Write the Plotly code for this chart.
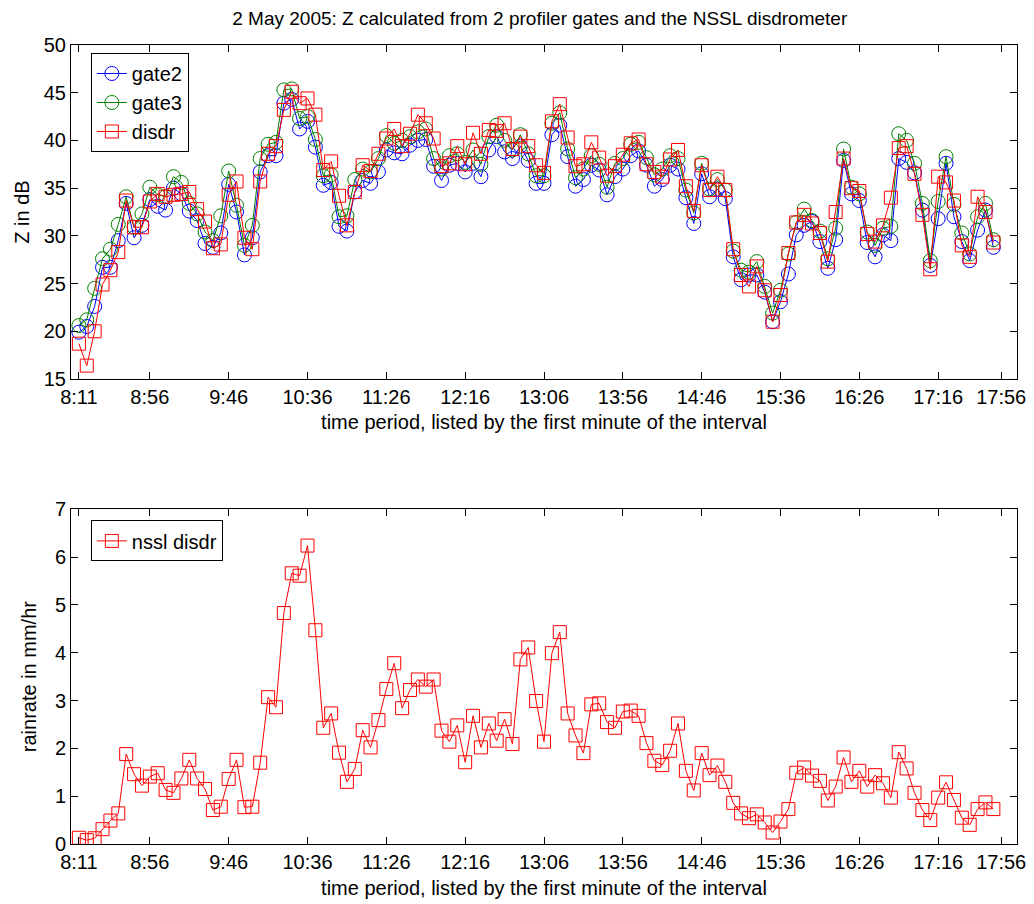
import plotly.graph_objects as go
from plotly.subplots import make_subplots

title_text = "2 May 2005: Z calculated from 2 profiler gates and the NSSL disdrometer"
x_label = "time period, listed by the first minute of the interval"

tick_positions = [1, 10, 20, 30, 40, 50, 60, 70, 80, 90, 100, 110, 118]
tick_labels = ["8:11", "8:56", "9:46", "10:36", "11:26", "12:16", "13:06",
               "13:56", "14:46", "15:36", "16:26", "17:16", "17:56"]

gate2 = [19.9, 20.5, 22.6, 26.7, 26.7, 29.5, 33.4, 29.8, 31.1, 33.8,
         33.1, 32.7, 35.0, 34.4, 32.6, 31.6, 29.2, 28.8, 30.3, 35.4,
         32.5, 28.0, 29.8, 36.7, 38.4, 38.4, 43.9, 44.3, 41.2, 42.0,
         39.3, 35.3, 35.6, 31.0, 30.5, 34.6, 35.8, 35.5, 36.7, 39.0,
         38.7, 38.6, 39.5, 40.0, 40.1, 37.3, 35.8, 37.4, 37.6, 36.7,
         37.6, 36.2, 39.0, 40.4, 38.8, 38.1, 39.4, 37.9, 35.5, 35.5,
         40.6, 41.6, 38.3, 35.2, 35.9, 37.4, 36.9, 34.3, 36.2, 37.0,
         38.4, 38.9, 37.4, 35.2, 35.9, 37.4, 37.0, 34.0, 31.3, 36.5,
         34.1, 34.9, 33.9, 27.8, 25.4, 25.9, 25.9, 24.1, 21.0, 23.1,
         26.0, 30.1, 31.1, 31.5, 29.4, 26.6, 29.6, 37.9, 34.4, 33.7,
         29.3, 27.8, 30.1, 29.5, 38.1, 37.7, 36.6, 32.7, 26.9, 31.8,
         37.6, 32.0, 29.4, 27.4, 30.6, 32.7, 28.8]

gate3 = [20.6, 21.2, 24.5, 27.6, 28.6, 31.2, 34.1, 30.9, 32.3, 35.1,
         34.3, 34.1, 36.2, 35.6, 33.4, 32.3, 30.4, 29.5, 32.1, 36.8,
         33.2, 29.0, 31.1, 38.1, 39.6, 39.8, 45.3, 45.4, 42.3, 42.5,
         40.1, 36.3, 36.4, 32.0, 32.1, 35.9, 37.0, 36.7, 38.1, 40.5,
         39.7, 40.0, 40.4, 40.9, 41.2, 38.1, 37.0, 38.4, 38.6, 37.7,
         39.0, 37.5, 40.4, 41.6, 40.0, 39.0, 40.6, 38.6, 36.3, 36.3,
         41.8, 42.9, 39.1, 36.1, 37.0, 38.4, 37.5, 35.1, 37.6, 38.1,
         39.6, 39.8, 38.2, 36.4, 37.0, 38.4, 38.1, 34.8, 32.4, 37.6,
         34.9, 35.9, 34.8, 28.4, 26.4, 26.2, 27.3, 24.7, 21.9, 24.3,
         28.1, 31.4, 32.8, 31.6, 30.5, 27.6, 30.8, 39.1, 35.1, 34.4,
         30.4, 29.0, 30.8, 31.0, 40.7, 40.0, 37.6, 33.4, 27.4, 33.6,
         38.3, 33.3, 30.3, 28.1, 32.0, 33.4, 29.6]

disdr = [18.7, 16.4, 20.0, 24.9, 26.4, 28.3, 33.7, 30.9, 30.9, 33.6,
         34.4, 34.1, 34.3, 34.4, 34.6, 32.8, 31.5, 28.7, 29.1, 34.3,
         35.7, 29.8, 28.6, 35.7, 38.6, 39.4, 43.2, 45.1, 43.9, 44.4,
         42.7, 36.9, 37.8, 34.2, 31.1, 34.6, 37.4, 36.8, 38.6, 40.2,
         41.2, 39.4, 40.7, 42.7, 41.8, 40.2, 37.3, 37.6, 39.4, 37.5,
         40.8, 38.6, 41.1, 41.0, 41.8, 39.1, 40.4, 39.4, 37.4, 36.6,
         42.0, 43.8, 40.3, 37.3, 37.5, 39.8, 38.2, 36.3, 37.3, 38.5,
         39.7, 40.1, 37.5, 36.7, 36.2, 38.0, 39.0, 35.2, 32.6, 37.4,
         34.8, 36.2, 34.8, 28.6, 25.9, 24.7, 26.8, 24.3, 21.0, 23.8,
         28.2, 31.4, 32.2, 31.3, 30.3, 27.3, 32.5, 38.1, 35.0, 34.7,
         30.2, 29.4, 31.1, 34.0, 39.2, 39.4, 36.5, 32.2, 26.5, 36.2,
         35.6, 33.7, 29.0, 27.8, 34.1, 32.5, 29.3]

rainrate = [0.13, 0.08, 0.12, 0.31, 0.49, 0.64, 1.88, 1.46, 1.22, 1.41,
            1.48, 1.13, 1.07, 1.37, 1.76, 1.37, 1.15, 0.71, 0.78, 1.36,
            1.76, 0.77, 0.78, 1.70, 3.07, 2.86, 4.83, 5.66, 5.61, 6.24,
            4.47, 2.43, 2.73, 1.91, 1.30, 1.57, 2.38, 2.02, 2.59, 3.24,
            3.78, 2.84, 3.22, 3.44, 3.29, 3.44, 2.37, 2.14, 2.48, 1.71,
            2.68, 2.02, 2.52, 2.16, 2.61, 2.09, 3.86, 4.11, 2.99, 2.14,
            3.99, 4.43, 2.73, 2.27, 1.90, 2.92, 2.94, 2.55, 2.43, 2.77,
            2.79, 2.68, 2.11, 1.74, 1.65, 1.95, 2.52, 1.53, 1.12, 1.90,
            1.44, 1.64, 1.30, 0.86, 0.64, 0.54, 0.62, 0.45, 0.24, 0.47,
            0.73, 1.49, 1.60, 1.43, 1.32, 0.91, 1.20, 1.81, 1.30, 1.53,
            1.20, 1.44, 1.27, 0.97, 1.92, 1.58, 1.07, 0.71, 0.50, 0.97,
            1.29, 0.92, 0.55, 0.40, 0.73, 0.87, 0.73]

idx = list(range(1, len(gate2) + 1))

FONT = "Liberation Sans, Arial, Helvetica, sans-serif"
FS = 20

fig = make_subplots(rows=2, cols=1, vertical_spacing=0.163)

def add(y, name, color, symbol, row, legend):
    fig.add_trace(go.Scatter(
        x=idx, y=y, name=name, mode="lines+markers",
        line=dict(color=color, width=1),
        marker=dict(symbol=symbol, size=14 if "circle" in symbol else 13,
                    color=color, line=dict(color=color, width=1)),
        legend=legend), row=row, col=1)

add(gate2, "gate2", "rgb(0,0,255)", "circle-open", 1, "legend")
add(gate3, "gate3", "rgb(0,128,0)", "circle-open", 1, "legend")
add(disdr, "disdr", "rgb(255,0,0)", "square-open", 1, "legend")
add(rainrate, "nssl disdr", "rgb(255,0,0)", "square-open", 2, "legend2")

axis_common = dict(showline=True, linecolor="black", linewidth=1, mirror="ticks",
                   ticks="inside", ticklen=7, tickcolor="black", showgrid=False,
                   zeroline=False, automargin=False,
                   tickfont=dict(size=FS, color="black", family=FONT))

for r in (1, 2):
    fig.update_xaxes(range=[0, 120], tickvals=tick_positions, ticktext=tick_labels,
                     title=dict(text=x_label, font=dict(size=FS, color="black", family=FONT),
                                standoff=8),
                     row=r, col=1, **axis_common)

fig.update_yaxes(range=[15, 50], tickvals=[15, 20, 25, 30, 35, 40, 45, 50],
                 title=dict(text="Z in dB", font=dict(size=FS, color="black", family=FONT),
                            standoff=8),
                 row=1, col=1, **axis_common)
fig.update_yaxes(range=[0, 7], tickvals=[0, 1, 2, 3, 4, 5, 6, 7],
                 title=dict(text="rainrate in mm/hr", font=dict(size=FS, color="black", family=FONT),
                            standoff=12),
                 row=2, col=1, **axis_common)

fig.update_layout(
    width=1034, height=904,
    margin=dict(l=71, r=17, t=45, b=60, autoexpand=False),
    paper_bgcolor="white", plot_bgcolor="white",
    font=dict(family=FONT, size=FS, color="black"),
    title=dict(text=title_text, x=0.522, xanchor="center", y=0.98, yanchor="middle",
               font=dict(size=19, color="black", family=FONT)),
    legend=dict(x=0.021, y=0.99, xanchor="left", yanchor="top",
                bgcolor="white", bordercolor="black", borderwidth=1,
                font=dict(size=FS, family=FONT, color="black"), tracegroupgap=0),
    legend2=dict(x=0.021, y=0.405, xanchor="left", yanchor="top",
                 bgcolor="white", bordercolor="black", borderwidth=1,
                 font=dict(size=FS, family=FONT, color="black")),
    showlegend=True,
)
fig.update_yaxes(domain=[0.582, 1.0], row=1, col=1)
fig.update_yaxes(domain=[0.0, 0.419], row=2, col=1)

fig.write_html("out.html")
